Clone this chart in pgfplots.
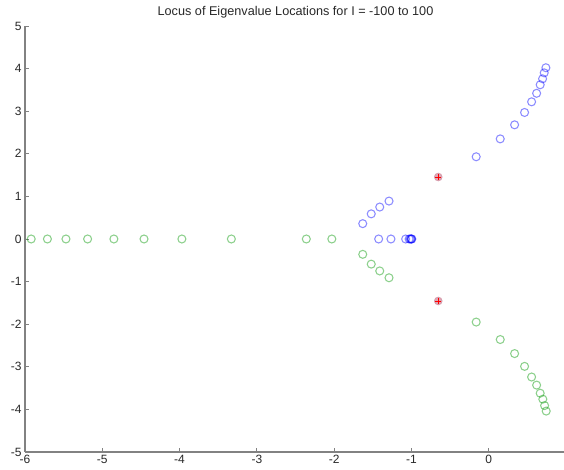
\documentclass[border=0pt]{standalone}
\usepackage{pgfplots}
\pgfplotsset{compat=1.18}
\usepackage{fontspec}
\setmainfont{Liberation Sans}
\definecolor{axgray}{RGB}{130,130,130}
\definecolor{txtgray}{RGB}{40,40,40}
\definecolor{mblue}{RGB}{0,0,255}
\definecolor{mgreen}{RGB}{0,150,0}
\definecolor{pinkish}{RGB}{205,130,150}
\begin{document}
\begin{tikzpicture}
\begin{axis}[
  name=ax,
  scale only axis,
  width=405.75pt, height=319.5pt,
  xmin=-6, xmax=1, ymin=-5, ymax=5,
  axis x line=bottom, axis y line=left,
  axis line style={-, axgray, line width=0.8pt},
  tick style={axgray, line width=0.6pt},
  major tick length=3pt,
  tick align=inside,
  xtick={-6,-5,-4,-3,-2,-1,0},
  xticklabels={-6,-5,-4,-3,-2,-1,0},
  ytick={-5,-4,-3,-2,-1,0,1,2,3,4,5},
  yticklabels={-5,-4,-3,-2,-1,0,1,2,3,4,5},
  ticklabel style={font=\fontsize{9}{10}\selectfont, text=txtgray},
  xticklabel style={yshift=1pt},
  yticklabel style={xshift=1pt},
  title={Locus of Eigenvalue Locations for I = -100 to 100},
  title style={font=\fontsize{9.5}{11}\selectfont, text=txtgray, yshift=-3.5pt},
  clip=false,
]
% blue branch
\addplot[mblue, only marks, mark=o, mark size=3pt, mark options={draw=mblue, draw opacity=0.45, line width=0.8pt}] coordinates {
(-1.424,0) (-1.265,0) (-1.075,0) (-1.03,0) (-1.015,0) (-1.005,0) (-1.0,0) (-0.995,0)
(-1.63,0.36) (-1.52,0.59) (-1.41,0.75) (-1.29,0.89)
(-0.162,1.93) (0.149,2.35) (0.335,2.68) (0.464,2.97) (0.555,3.22)
(0.62,3.42) (0.666,3.62) (0.697,3.76) (0.718,3.90) (0.74,4.02)
};
% green branch
\addplot[mgreen, only marks, mark=o, mark size=3pt, mark options={draw=mgreen, draw opacity=0.45, line width=0.8pt}] coordinates {
(-5.92,0) (-5.71,0) (-5.47,0) (-5.19,0) (-4.85,0) (-4.46,0) (-3.97,0) (-3.33,0) (-2.36,0) (-2.03,0)
(-1.63,-0.36) (-1.52,-0.59) (-1.41,-0.75) (-1.29,-0.91)
(-0.162,-1.95) (0.149,-2.36) (0.335,-2.69) (0.464,-2.99) (0.555,-3.24)
(0.62,-3.43) (0.666,-3.62) (0.70,-3.76) (0.723,-3.91) (0.744,-4.04)
};
% red markers
\addplot[pinkish, only marks, mark=*, mark size=3pt, mark options={draw=pinkish, fill=pinkish, opacity=0.7}] coordinates {(-0.653,1.455) (-0.653,-1.455)};
\addplot[red, only marks, mark=+, mark size=2.2pt, mark options={draw=red, line width=0.7pt}] coordinates {(-0.653,1.455) (-0.653,-1.455)};
\end{axis}
\pgfresetboundingbox
\path (ax.south west) ++(-18.75pt,-13.5pt) rectangle ++(423pt,352.5pt);
\end{tikzpicture}
\end{document}
